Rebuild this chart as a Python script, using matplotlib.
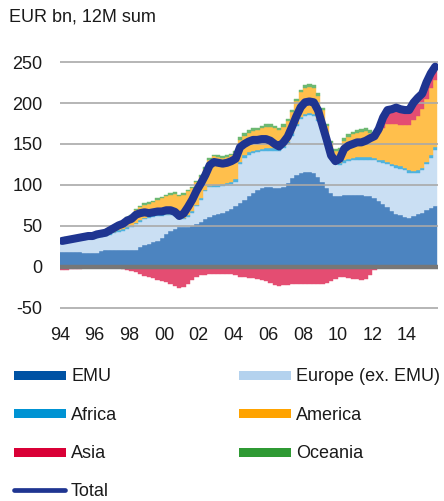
import numpy as np
import matplotlib
matplotlib.use("Agg")
import matplotlib.pyplot as plt
from matplotlib.patches import Rectangle
from matplotlib.lines import Line2D

plt.rcParams['font.family'] = ['Liberation Sans', 'DejaVu Sans']

# Quarterly data, 1994Q1 .. 2015Q3 (EUR bn, 12M sum)
start_year = 1994
emu = [18, 18, 18, 18, 18, 17, 17, 17, 17, 19, 20, 21, 21, 21, 21, 21,
       20, 21, 24, 26, 28, 30, 32, 35, 40, 44, 46, 48, 48, 49, 50, 52,
       55, 58, 61, 63, 65, 66, 68, 70, 74, 78, 82, 86, 90, 94, 96, 97,
       97, 96, 96, 98, 102, 108, 112, 115, 116, 116, 114, 110, 103, 96, 90, 87,
       87, 88, 88, 88, 88, 88, 87, 86, 84, 80, 77, 73, 68, 65, 63, 61,
       60, 62, 64, 66, 69, 72, 74]
europe = [11, 12, 13, 14, 15, 16, 17, 17, 18, 17, 17, 18, 20, 22, 23, 25,
          28, 31, 31, 32, 32, 31, 30, 27, 23, 19, 16, 10, 10, 12, 16, 22,
          27, 34, 36, 35, 33, 33, 32, 31, 30, 47, 51, 51, 49, 46, 45, 45,
          45, 46, 46, 47, 48, 52, 60, 65, 68, 69, 70, 68, 65, 59, 48, 41,
          37, 39, 41, 42, 43, 43, 44, 45, 46, 48, 50, 52, 55, 56, 57, 57,
          55, 52, 51, 52, 56, 61, 69]
africa = [2] * 40 + [3] * 47
america = [3, 3, 2, 2, 2, 2, 2, 2, 3, 3, 3, 4, 5, 6, 8, 11,
           12, 15, 16, 16, 15, 16, 18, 20, 21, 23, 25, 26, 28, 29, 28, 27,
           26, 26, 32, 35, 34, 32, 32, 33, 32, 27, 24, 24, 24, 24, 25, 26,
           26, 24, 22, 23, 25, 26, 27, 30, 32, 32, 32, 28, 20, 14, 10, 10,
           15, 24, 27, 29, 30, 31, 32, 30, 28, 32, 40, 46, 48, 50, 50, 52,
           55, 62, 66, 72, 77, 82, 82]
asia = [-4, -4, -3, -3, -3, -2, -2, -2, -2, -2, -2, -2, -2, -2, -3, -4,
        -5, -7, -9, -11, -13, -14, -16, -18, -19, -21, -24, -26, -25, -21, -16, -12,
        -10, -10, -9, -9, -9, -9, -9, -9, -10, -12, -13, -14, -14, -15, -16, -18,
        -20, -22, -23, -22, -22, -21, -21, -21, -21, -21, -21, -21, -21, -20, -18, -15,
        -13, -13, -14, -15, -15, -16, -15, -10, -4, 3, 10, 15, 16, 18, 17, 16,
        16, 19, 20, 16, 18, 16, 14]
oceania = [1.5] * 24 + [2] * 16 + [3] * 32 + [2.5] * 15

series_names = ["EMU", "Europe (ex. EMU)", "Africa", "America", "Asia", "Oceania"]
legend_colors = ["#0052a4", "#b4d2ee", "#0093d3", "#ffa300", "#d90036", "#2f9a34"]
bar_colors = ["#4c84c0", "#cadff3", "#4db3e0", "#ffbf4c", "#e44d72", "#6db871"]
total_color = "#1f3591"

xticks_years = list(range(1994, 2015, 2))
xtick_labels = [f"{y % 100:02d}" for y in xticks_years]
yticks = [-50, 0, 50, 100, 150, 200, 250]

n = len(emu)
x = start_year + 0.25 * np.arange(n) + 0.125
data = [np.array(s, dtype=float) for s in (emu, europe, africa, america, asia, oceania)]
total = np.sum(data, axis=0)

W, H = 444, 501
fig = plt.figure(figsize=(W / 100, H / 100), dpi=100)

ax_left, ax_right = 60, 438
ymin, ymax = -55, 255
y_top_px = 266.7 - 0.818 * ymax
y_bot_px = 266.7 - 0.818 * ymin
ax = fig.add_axes([ax_left / W, 1 - y_bot_px / H, (ax_right - ax_left) / W, (y_bot_px - y_top_px) / H])

pos = np.zeros(n)
for i, (vals, col) in enumerate(zip(data, bar_colors)):
    if series_names[i] == "Asia":
        bottom = np.where(vals >= 0, pos, 0.0)
        ax.bar(x, vals, width=0.25, bottom=bottom, color=col, edgecolor=col, linewidth=0.3, zorder=1)
        pos = pos + np.clip(vals, 0, None)
    else:
        ax.bar(x, vals, width=0.25, bottom=pos, color=col, edgecolor=col, linewidth=0.3, zorder=1)
        pos = pos + vals

for yv in yticks:
    if yv == 0:
        continue
    ax.axhline(yv, color="#a9a9a9", lw=1.4, alpha=0.85, zorder=2)
ax.axhline(0, color="#777777", lw=3.2, zorder=2.5)

ax.plot(x, total, color=total_color, lw=5.8, solid_capstyle="round", solid_joinstyle="round", zorder=3)

ax.set_xlim(1994, 2015.787)
ax.set_ylim(ymin, ymax)
ax.set_yticks(yticks)
ax.set_yticklabels([str(v) for v in yticks])
ax.set_xticks(xticks_years)
ax.set_xticklabels(xtick_labels)
ax.tick_params(axis="both", length=0, labelsize=13, colors="#1a1a1a")
ax.tick_params(axis="y", pad=12.5)
ax.tick_params(axis="x", pad=11)
for s in ax.spines.values():
    s.set_visible(False)

fig.text(9 / W, 1 - 21.3 / H, "EUR bn, 12M sum", fontsize=13, color="#1a1a1a", va="baseline", ha="left")

# legend drawn in pixel coordinates
lg = fig.add_axes([0, 0, 1, 1])
lg.set_xlim(0, W)
lg.set_ylim(H, 0)
lg.axis("off")
lg.patch.set_alpha(0)
rows = [375, 413.5, 452]
baselines = [381, 419.5, 458]
items = [(0, 0), (1, 1), (2, 0), (3, 1), (4, 0), (5, 1)]
for k, (si, colpos) in enumerate(items):
    r = k // 2
    hx = 14 if colpos == 0 else 239
    tx = 71 if colpos == 0 else 296
    lg.add_patch(Rectangle((hx, rows[r] - 4.5), 52, 9, color=legend_colors[si], lw=0))
    lg.text(tx, baselines[r], series_names[si], fontsize=13, color="#1a1a1a", va="baseline", ha="left")
lg.add_line(Line2D([14, 65], [490, 490], color=total_color, lw=3.4, solid_capstyle="round"))
lg.text(71, 496.5, "Total", fontsize=13, color="#1a1a1a", va="baseline", ha="left")

fig.savefig("out.png", dpi=100)
